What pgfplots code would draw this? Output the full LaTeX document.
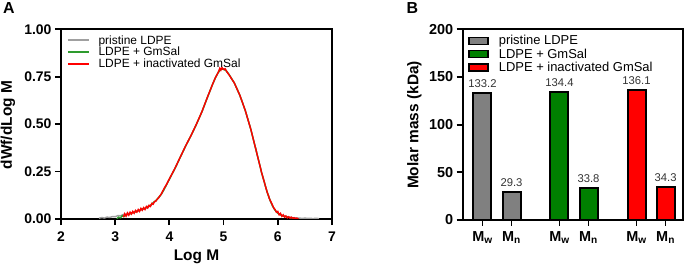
\documentclass[border=0pt]{standalone}
\usepackage{fontspec}
\setmainfont{Liberation Sans}
\usepackage{pgfplots}
\pgfplotsset{compat=1.18}
\definecolor{lineGrey}{HTML}{A0A0A0}
\definecolor{lineGreen}{HTML}{2E9B2E}
\definecolor{lineRed}{HTML}{FF0000}
\definecolor{barGrey}{HTML}{808080}
\definecolor{barGreen}{HTML}{008000}
\definecolor{barRed}{HTML}{FF0000}
\begin{document}
\begin{tikzpicture}
\useasboundingbox (0,0) rectangle (685bp,268bp);
% ---------- Panel A ----------
\begin{axis}[
  at={(61bp,49bp)}, anchor=south west,
  width=271bp, height=189.7bp, scale only axis,
  xmin=2, xmax=7, ymin=0, ymax=1,
  xtick={2,3,4,5,6,7}, ytick={0,0.25,0.5,0.75,1},
  axis line style={line width=1.8bp},
  major tick style={line width=1.8bp, black},
  major tick length=6bp,
  tick align=outside, xtick pos=bottom, ytick pos=left,
  /pgf/number format/assume math mode=true,
  ticklabel style={font=\fontsize{14}{16}\selectfont\bfseries},
  xticklabel style={yshift=-3bp},
  yticklabel style={/pgf/number format/.cd, fixed, fixed zerofill, precision=2},
  legend style={at={(0.01,0.99)}, anchor=north west, draw=none, fill=none,
    font=\fontsize{12}{13}\selectfont, row sep=-2.5bp},
  legend cell align=left,
  legend image code/.code={\draw[#1, line width=2bp] (0bp,0bp) -- (21bp,0bp); \path (28bp,0bp);},
]
\addplot[color=lineGrey, line width=1.4bp] coordinates {
(2.70,0.004)(2.75,0.008)(2.80,0.005)(2.85,0.010)(2.90,0.008)(2.95,0.013)(3.00,0.012)(3.05,0.018)(3.10,0.017)(3.15,0.024)(3.20,0.024)(3.25,0.030)(3.30,0.031)(3.35,0.037)(3.40,0.040)(3.45,0.046)(3.50,0.049)(3.55,0.055)(3.60,0.062)(3.65,0.070)(3.70,0.083)(3.75,0.096)(3.80,0.110)
(3.85,0.130)(3.90,0.155)(3.95,0.182)(4.00,0.210)(4.10,0.265)(4.20,0.325)(4.30,0.385)(4.40,0.440)(4.50,0.500)(4.60,0.565)(4.70,0.640)(4.80,0.712)(4.85,0.745)(4.90,0.772)(4.95,0.789)(5.00,0.790)(5.05,0.781)(5.10,0.762)(5.20,0.716)(5.30,0.652)(5.40,0.572)(5.50,0.475)(5.60,0.362)(5.70,0.246)(5.80,0.145)(5.85,0.104)(5.90,0.070)(5.95,0.046)
(6.00,0.030)(6.10,0.016)(6.20,0.010)(6.30,0.006)(6.40,0.005)(6.45,0.003)(6.50,0.005)(6.55,0.003)(6.60,0.004)(6.65,0.002)(6.70,0.004)(6.76,0.002)};
\addlegendentry{pristine LDPE}
\addplot[color=lineGreen, line width=1.4bp] coordinates {
(3.03,0.000)(3.06,0.010)(3.10,0.006)(3.13,0.018)(3.16,0.012)(3.20,0.024)(3.25,0.022)(3.30,0.032)(3.35,0.034)(3.40,0.042)(3.45,0.045)(3.50,0.054)(3.55,0.056)(3.60,0.066)(3.65,0.072)(3.70,0.086)(3.75,0.097)(3.80,0.113)
(3.85,0.130)(3.90,0.155)(3.95,0.182)(4.00,0.210)(4.10,0.265)(4.20,0.325)(4.30,0.385)(4.40,0.440)(4.50,0.500)(4.60,0.565)(4.70,0.640)(4.80,0.712)(4.85,0.745)(4.90,0.772)(4.95,0.789)(5.00,0.790)(5.05,0.781)(5.10,0.762)(5.20,0.716)(5.30,0.652)(5.40,0.572)(5.50,0.475)(5.60,0.362)(5.70,0.246)(5.80,0.145)(5.85,0.104)(5.90,0.070)(5.95,0.046)
(6.00,0.030)(6.05,0.022)(6.10,0.016)(6.15,0.012)(6.20,0.009)(6.25,0.006)(6.30,0.004)};
\addlegendentry{LDPE + GmSal}
\addplot[color=lineRed, line width=1.4bp] coordinates {
(3.15,0.010)(3.175,0.028)(3.20,0.015)(3.225,0.032)(3.25,0.020)(3.275,0.036)(3.30,0.026)(3.325,0.040)(3.35,0.030)(3.375,0.045)(3.40,0.036)(3.425,0.050)(3.45,0.040)(3.475,0.056)(3.50,0.046)(3.525,0.060)(3.55,0.050)(3.575,0.066)(3.60,0.058)(3.625,0.072)(3.65,0.066)(3.675,0.082)(3.70,0.078)(3.725,0.092)(3.75,0.094)(3.775,0.105)(3.80,0.112)
(3.85,0.132)(3.90,0.160)(3.95,0.184)(4.00,0.212)(4.10,0.266)(4.20,0.326)(4.30,0.386)(4.40,0.441)(4.50,0.501)(4.60,0.566)(4.70,0.641)(4.80,0.713)(4.85,0.746)(4.90,0.772)(4.93,0.795)(4.95,0.785)(4.97,0.798)(5.00,0.788)(5.03,0.792)(5.06,0.776)(5.10,0.760)(5.20,0.716)(5.30,0.652)(5.40,0.572)(5.50,0.475)(5.60,0.362)(5.70,0.246)(5.80,0.145)(5.85,0.104)
(5.90,0.075)(5.925,0.058)(5.95,0.050)(5.975,0.036)(6.00,0.040)(6.025,0.022)(6.05,0.030)(6.075,0.014)(6.10,0.022)(6.125,0.010)(6.15,0.016)(6.175,0.006)(6.20,0.012)(6.225,0.004)(6.25,0.010)(6.275,0.003)(6.30,0.007)(6.325,0.002)(6.35,0.005)(6.38,0.001)};
\addlegendentry{LDPE + inactivated GmSal}
\end{axis}
\node[font=\fontsize{15.5}{17}\selectfont\bfseries] at (196.5bp,11.3bp) {Log M};
\node[font=\fontsize{15.5}{17}\selectfont\bfseries, rotate=90] at (8bp,143bp) {dWf/dLog M};
\node[font=\fontsize{16}{18}\selectfont\bfseries] at (9bp,260bp) {A};
% ---------- Panel B ----------
\begin{axis}[
  at={(462.7bp,48bp)}, anchor=south west,
  width=220.6bp, height=190.7bp, scale only axis,
  xmin=-0.68, xmax=6.91, ymin=0, ymax=200,
  ytick={0,50,100,150,200},
  xtick={0,1,2.65,3.65,5.3,6.3},
  xticklabels={{\textbf{M}\textsubscript{w}},{\textbf{M}\textsubscript{n}},{\textbf{M}\textsubscript{w}},{\textbf{M}\textsubscript{n}},{\textbf{M}\textsubscript{w}},{\textbf{M}\textsubscript{n}}},
  axis line style={line width=1.8bp},
  major tick style={line width=1.8bp, black},
  major tick length=6bp,
  tick align=outside, xtick pos=bottom, ytick pos=left,
  /pgf/number format/assume math mode=true,
  ticklabel style={font=\fontsize{14.5}{16}\selectfont\bfseries},
  xticklabel style={yshift=-2bp},
  legend style={at={(0.01,0.99)}, anchor=north west, draw=none, fill=none,
    font=\fontsize{13}{14}\selectfont, row sep=-1.5bp},
  legend cell align=left,
  legend image code/.code={\draw[#1, line width=1.5bp] (0bp,-3.5bp) rectangle (19bp,3.5bp); \path (27bp,0bp);},
  nodes near coords={\pgfmathprintnumber[fixed,fixed zerofill,precision=1,assume math mode=true]{\pgfplotspointmeta}},
  nodes near coords style={font=\fontsize{11.3}{12}\selectfont, text=black!80, yshift=1bp},
]
\addplot[ybar, bar width=18bp, bar shift=0pt, fill=barGrey, draw=black, line width=2bp] coordinates {(0,133.2)(1,29.3)};
\addlegendentry{pristine LDPE}
\addplot[ybar, bar width=18bp, bar shift=0pt, fill=barGreen, draw=black, line width=2bp] coordinates {(2.65,134.4)(3.65,33.8)};
\addlegendentry{LDPE + GmSal}
\addplot[ybar, bar width=18bp, bar shift=0pt, fill=barRed, draw=black, line width=2bp] coordinates {(5.3,136.1)(6.3,34.3)};
\addlegendentry{LDPE + inactivated GmSal}
\end{axis}
\node[font=\fontsize{15.5}{17}\selectfont\bfseries, rotate=90] at (414.5bp,143bp) {Molar mass (kDa)};
\node[font=\fontsize{16}{18}\selectfont\bfseries] at (412.5bp,260bp) {B};
\end{tikzpicture}
\end{document}
